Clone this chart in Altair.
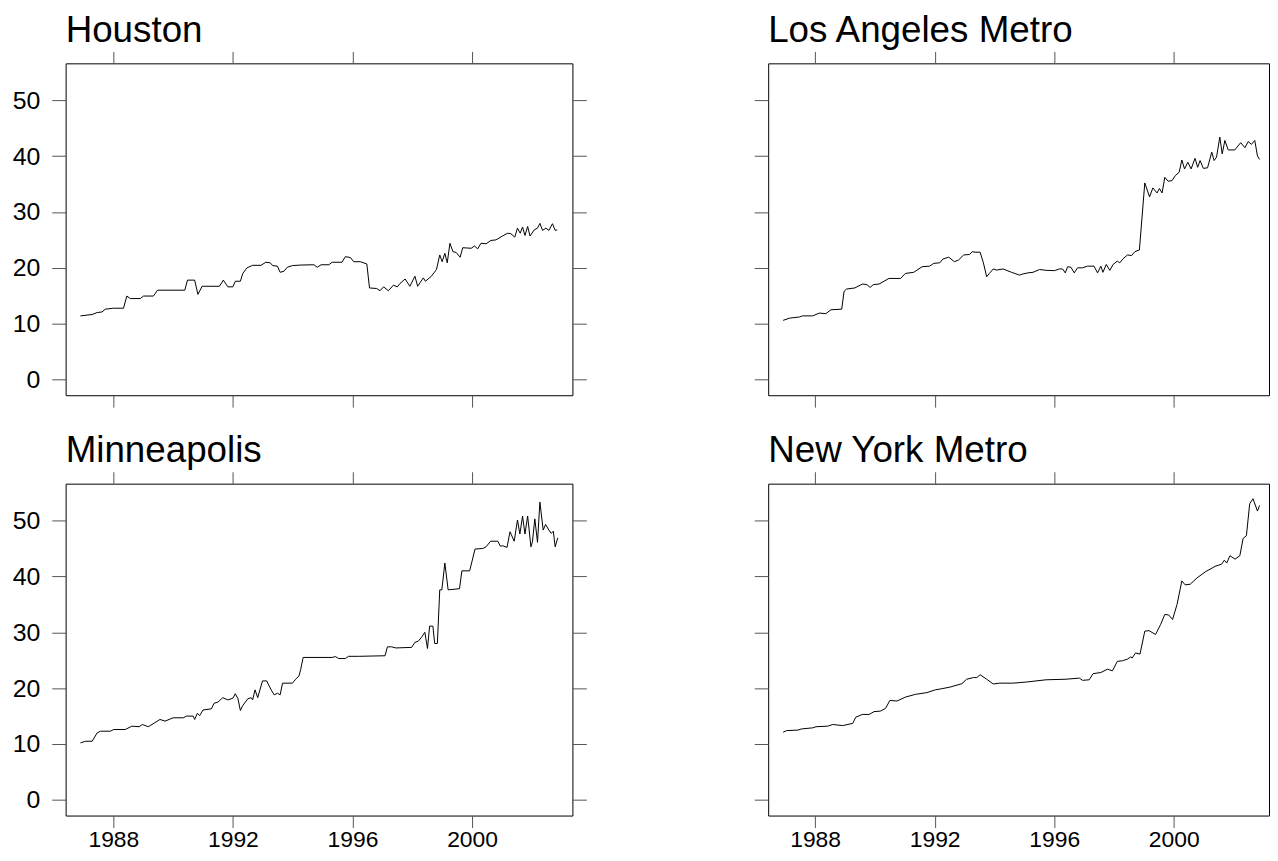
import altair as alt
import pandas as pd

# ---------------- data ----------------
houston_year = [1986.9, 1987.29, 1987.46, 1987.62, 1987.73, 1988.0, 1988.34, 1988.45, 1988.57, 1988.9,
                1989.01, 1989.34, 1989.48, 1990.39, 1990.48, 1990.72, 1990.83, 1990.97, 1991.55, 1991.68,
                1991.83, 1992.0, 1992.08, 1992.25, 1992.33, 1992.47, 1992.66, 1992.94, 1993.1, 1993.25,
                1993.33, 1993.49, 1993.58, 1993.71, 1993.82, 1993.99, 1994.27, 1994.71, 1994.82, 1994.95,
                1995.21, 1995.32, 1995.65, 1995.76, 1995.93, 1996.04, 1996.26, 1996.48, 1996.57, 1996.81,
                1996.92, 1997.04, 1997.2, 1997.37, 1997.5, 1997.59, 1997.76, 1997.92, 1998.09, 1998.18,
                1998.37, 1998.44, 1998.64, 1998.81, 1998.92, 1999.0, 1999.09, 1999.17, 1999.26, 1999.36,
                1999.47, 1999.6, 1999.69, 1999.97, 2000.08, 2000.19, 2000.3, 2000.47, 2000.63, 2000.8,
                2001.02, 2001.19, 2001.3, 2001.43, 2001.52, 2001.61, 2001.69, 2001.77, 2001.86, 2001.94,
                2002.08, 2002.19, 2002.27, 2002.36, 2002.47, 2002.57, 2002.69, 2002.78, 2002.85]
houston_value = [11.4, 11.65, 12.0, 12.1, 12.6, 12.77, 12.77, 14.95, 14.5, 14.5,
                 14.95, 14.95, 16.0, 16.0, 17.8, 17.8, 15.25, 16.7, 16.7, 17.8,
                 16.6, 16.6, 17.6, 17.6, 19.0, 20.0, 20.45, 20.45, 21.0, 20.9,
                 20.4, 20.3, 19.2, 19.4, 20.1, 20.4, 20.5, 20.55, 20.1, 20.55,
                 20.55, 21.0, 21.0, 22.0, 21.85, 21.1, 21.1, 20.7, 16.4, 16.3,
                 15.9, 16.6, 15.9, 16.9, 16.6, 17.2, 18.0, 16.7, 18.5, 16.7,
                 18.2, 17.6, 18.5, 19.7, 22.3, 21.1, 22.6, 20.9, 24.4, 22.9,
                 22.75, 21.9, 23.6, 23.5, 23.9, 23.4, 24.4, 24.3, 24.9, 25.0,
                 25.7, 26.2, 26.1, 25.5, 27.1, 26.2, 27.3, 25.8, 27.4, 25.7,
                 26.8, 27.1, 27.96, 26.7, 27.1, 26.7, 27.9, 26.7, 26.8]

la_year = [1986.93, 1987.15, 1987.47, 1987.58, 1987.92, 1988.14, 1988.36, 1988.53, 1988.89, 1988.97,
           1989.05, 1989.33, 1989.58, 1989.73, 1989.84, 1989.95, 1990.14, 1990.47, 1990.86, 1991.02,
           1991.3, 1991.58, 1991.83, 1991.97, 1992.17, 1992.28, 1992.47, 1992.66, 1992.8, 1992.97,
           1993.17, 1993.26, 1993.35, 1993.52, 1993.63, 1993.74, 1993.83, 1993.96, 1994.07, 1994.29,
           1994.57, 1994.84, 1994.95, 1995.12, 1995.29, 1995.51, 1995.73, 1996.01, 1996.17, 1996.28,
           1996.37, 1996.45, 1996.56, 1996.67, 1996.78, 1996.95, 1997.11, 1997.33, 1997.45, 1997.56,
           1997.63, 1997.74, 1997.86, 1997.97, 1998.11, 1998.19, 1998.3, 1998.45, 1998.59, 1998.7,
           1998.85, 1999.03, 1999.19, 1999.3, 1999.44, 1999.52, 1999.61, 1999.7, 1999.81, 1999.94,
           2000.05, 2000.18, 2000.27, 2000.36, 2000.47, 2000.58, 2000.71, 2000.8, 2000.88, 2000.99,
           2001.13, 2001.27, 2001.35, 2001.43, 2001.54, 2001.62, 2001.71, 2001.82, 2002.04, 2002.24,
           2002.38, 2002.49, 2002.6, 2002.71, 2002.8, 2002.87]
la_value = [10.6, 11.0, 11.2, 11.4, 11.4, 11.9, 11.8, 12.5, 12.6, 15.8,
            16.2, 16.4, 17.1, 17.0, 16.5, 17.0, 17.1, 18.1, 18.1, 19.0,
            19.2, 20.2, 20.3, 20.8, 20.9, 21.6, 21.9, 21.1, 21.4, 22.3,
            22.4, 22.9, 22.8, 22.8, 20.9, 18.4, 19.0, 19.8, 19.6, 19.8,
            19.2, 18.7, 18.9, 19.1, 19.2, 19.7, 19.55, 19.5, 19.8, 19.8,
            19.1, 20.2, 20.1, 19.1, 20.0, 20.0, 20.3, 20.3, 19.1, 20.3,
            19.2, 20.6, 19.55, 20.6, 21.2, 20.9, 21.6, 22.3, 22.2, 22.9,
            23.2, 35.2, 32.7, 34.3, 33.4, 34.2, 33.4, 36.2, 35.5, 35.6,
            36.5, 37.1, 39.3, 37.7, 38.9, 37.7, 39.6, 38.0, 39.2, 37.8,
            37.9, 40.7, 39.2, 39.8, 43.4, 40.4, 42.8, 41.1, 41.1, 42.4,
            41.5, 42.6, 42.1, 42.8, 40.0, 39.4]

minneapolis_year = [1986.9, 1987.07, 1987.29, 1987.46, 1987.57, 1987.9, 1988.01, 1988.4, 1988.62, 1988.86,
                    1988.97, 1989.17, 1989.56, 1989.73, 1990.0, 1990.34, 1990.45, 1990.67, 1990.72, 1990.81,
                    1990.89, 1991.0, 1991.28, 1991.37, 1991.5, 1991.66, 1991.83, 1992.0, 1992.08, 1992.17,
                    1992.25, 1992.33, 1992.5, 1992.61, 1992.66, 1992.74, 1992.83, 1992.99, 1993.13, 1993.27,
                    1993.38, 1993.49, 1993.58, 1993.66, 1993.99, 1994.1, 1994.21, 1994.27, 1994.35, 1995.32,
                    1995.43, 1995.54, 1995.76, 1995.87, 1996.2, 1997.09, 1997.17, 1997.31, 1997.45, 1997.98,
                    1998.09, 1998.2, 1998.31, 1998.42, 1998.51, 1998.58, 1998.69, 1998.75, 1998.84, 1998.92,
                    1998.99, 1999.09, 1999.2, 1999.58, 1999.66, 1999.92, 2000.1, 2000.36, 2000.47, 2000.62,
                    2000.86, 2000.95, 2001.02, 2001.17, 2001.27, 2001.41, 2001.52, 2001.6, 2001.69, 2001.77,
                    2001.86, 2001.97, 2002.02, 2002.1, 2002.19, 2002.27, 2002.38, 2002.46, 2002.57, 2002.65,
                    2002.72, 2002.78, 2002.87]
minneapolis_value = [10.2, 10.5, 10.5, 12.0, 12.3, 12.3, 12.6, 12.6, 13.2, 13.1,
                     13.5, 13.1, 14.4, 14.1, 14.7, 14.7, 15.0, 15.0, 14.4, 15.5,
                     15.1, 16.1, 16.3, 17.3, 17.5, 18.3, 17.9, 18.2, 19.0, 18.1,
                     16.0, 16.9, 18.1, 18.3, 17.9, 19.7, 18.3, 21.3, 21.3, 19.8,
                     18.8, 19.1, 18.8, 20.9, 20.9, 21.6, 22.2, 23.4, 25.5, 25.5,
                     25.65, 25.3, 25.3, 25.7, 25.7, 25.8, 27.4, 27.4, 27.2, 27.3,
                     28.2, 28.4, 29.1, 30.0, 27.1, 31.1, 31.1, 28.0, 28.0, 37.6,
                     37.6, 42.4, 37.6, 37.8, 41.0, 41.0, 44.9, 45.0, 45.3, 46.3,
                     46.3, 45.4, 45.5, 45.2, 48.0, 46.3, 50.1, 47.6, 50.8, 47.6,
                     50.8, 45.3, 46.2, 50.3, 46.1, 53.3, 48.3, 49.3, 48.3, 47.7,
                     48.1, 45.3, 46.9]

newyork_year = [1986.93, 1987.04, 1987.43, 1987.54, 1987.92, 1988.03, 1988.42, 1988.59, 1988.92, 1989.26,
                1989.36, 1989.58, 1989.81, 1989.97, 1990.19, 1990.36, 1990.5, 1990.74, 1991.02, 1991.36,
                1991.74, 1992.02, 1992.24, 1992.52, 1992.91, 1993.07, 1993.3, 1993.41, 1993.52, 1993.74,
                1993.96, 1994.18, 1994.63, 1995.07, 1995.73, 1996.39, 1996.84, 1996.95, 1997.17, 1997.3,
                1997.56, 1997.78, 1997.95, 1998.11, 1998.28, 1998.45, 1998.56, 1998.61, 1998.72, 1998.87,
                1999.03, 1999.17, 1999.39, 1999.56, 1999.7, 1999.83, 1999.96, 2000.11, 2000.27, 2000.38,
                2000.55, 2000.77, 2001.05, 2001.38, 2001.6, 2001.69, 2001.77, 2001.88, 2002.05, 2002.21,
                2002.32, 2002.43, 2002.54, 2002.65, 2002.8, 2002.87]
newyork_value = [12.1, 12.4, 12.5, 12.7, 12.9, 13.1, 13.2, 13.5, 13.3, 13.7,
                 14.8, 15.3, 15.3, 15.8, 15.9, 16.4, 17.8, 17.7, 18.4, 18.9,
                 19.2, 19.7, 19.9, 20.2, 20.8, 21.6, 21.9, 21.9, 22.4, 21.6,
                 20.75, 20.9, 20.9, 21.1, 21.5, 21.6, 21.8, 21.4, 21.5, 22.6,
                 22.8, 23.4, 23.1, 24.8, 24.9, 25.2, 25.6, 25.4, 26.3, 26.1,
                 30.2, 30.3, 29.6, 31.4, 33.2, 33.1, 32.3, 35.0, 39.2, 38.5,
                 38.6, 39.7, 40.8, 41.8, 42.2, 42.9, 42.4, 43.7, 43.1, 43.7,
                 46.8, 47.3, 53.0, 53.9, 51.7, 52.7]

titles = ["Houston", "Los Angeles Metro", "Minneapolis", "New York Metro"]
x_ticks = [1988, 1992, 1996, 2000]
y_ticks = [0, 10, 20, 30, 40, 50]
y_domain = [-2.8, 56.6]
left_x_domain = [1986.404, 2003.358]
right_x_domain = [1986.43, 2003.186]

FONT = "Liberation Sans"
PANEL_H = 334


def panel(title, years, values, show_x_labels, show_y_labels, x_domain, width, right_ticks):
    df = pd.DataFrame({"year": years, "value": values})
    xs = alt.Scale(domain=x_domain, nice=False, zero=False)
    ys = alt.Scale(domain=y_domain, nice=False, zero=False)
    main = alt.Chart(df).mark_line(color="black", strokeWidth=1).encode(
        x=alt.X("year:Q", scale=xs,
                axis=alt.Axis(orient="bottom", values=x_ticks, format="d",
                              labels=show_x_labels, title=None, tickSize=12,
                              labelPadding=1, labelFontSize=23)),
        y=alt.Y("value:Q", scale=ys,
                axis=alt.Axis(orient="left", values=y_ticks, labels=show_y_labels,
                              title=None, tickSize=14, labelPadding=12,
                              labelFontSize=25)),
    )
    mirror_enc = {
        "x": alt.X("year:Q", scale=xs,
                   axis=alt.Axis(orient="top", values=x_ticks, labels=False,
                                 title=None, tickSize=12)),
    }
    if right_ticks:
        mirror_enc["y"] = alt.Y("value:Q", scale=ys,
                                axis=alt.Axis(orient="right", values=y_ticks, labels=False,
                                              title=None, tickSize=14))
    else:
        mirror_enc["y"] = alt.Y("value:Q", scale=ys, axis=None)
    mirror = alt.Chart(df).mark_line(strokeOpacity=0).encode(**mirror_enc)
    return alt.layer(main, mirror).resolve_axis(x="independent", y="independent").properties(
        width=width, height=PANEL_H,
        title=alt.Title(title, anchor="start", frame="group", fontSize=37,
                        font=FONT, fontWeight="normal", color="black", offset=1),
    )


top = alt.hconcat(
    panel(titles[0], houston_year, houston_value, False, True, left_x_domain, 510, True),
    panel(titles[1], la_year, la_value, False, False, right_x_domain, 504, False),
    spacing=167,
)
bottom = alt.hconcat(
    panel(titles[2], minneapolis_year, minneapolis_value, True, True, left_x_domain, 510, True),
    panel(titles[3], newyork_year, newyork_value, True, False, right_x_domain, 504, False),
    spacing=167,
)

chart = alt.vconcat(top, bottom, spacing=24).properties(
    padding={"left": 3, "top": 1, "right": 0, "bottom": 0},
).configure_view(
    stroke="black", strokeWidth=1,
).configure_axis(
    domain=False, grid=False, tickColor="#555555", tickWidth=1,
    labelFont=FONT, labelColor="black",
)

chart.save("out.html", embed_options={"renderer": "svg", "actions": False})
